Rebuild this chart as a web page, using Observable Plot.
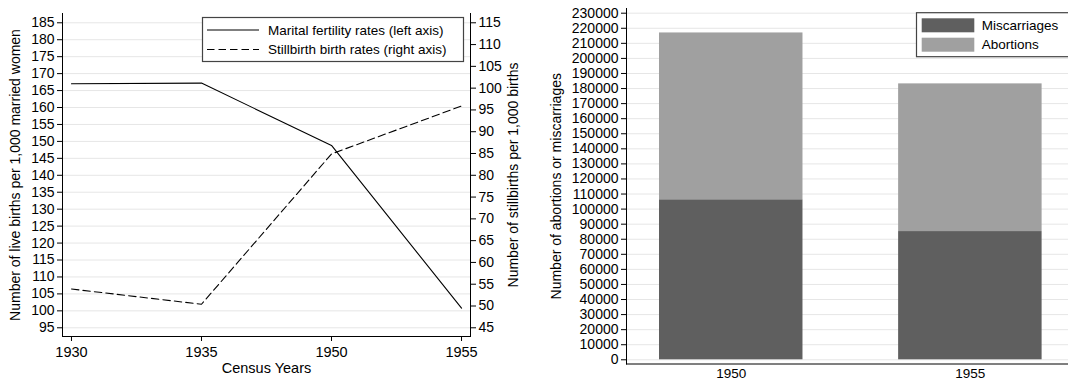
<!DOCTYPE html>
<html>
<head>
<meta charset="utf-8">
<script src="https://cdn.jsdelivr.net/npm/d3@7"></script>
<script src="https://cdn.jsdelivr.net/npm/@observablehq/plot@0.6"></script>
<style>
  html, body { margin: 0; padding: 0; background: #fff; }
  #wrap { position: relative; width: 1068px; height: 381px; overflow: hidden; font-family: "Liberation Sans", Arial, Helvetica, sans-serif; }
  #left { position: absolute; left: 0; top: 0; width: 534px; height: 381px; }
  #right { position: absolute; left: 534px; top: 0; width: 534px; height: 381px; overflow: hidden; }
  #overlay { position: absolute; left: 0; top: 0; pointer-events: none; }
</style>
</head>
<body>
<div id="wrap">
  <div id="left"></div>
  <div id="right"></div>
  <svg id="overlay" width="1068" height="381"></svg>
</div>
<script>
// ---------- Data ----------
const censusYears = ["1930", "1935", "1950", "1955"];
const maritalFertility = [167.0, 167.2, 148.8, 100.8];   // left axis
const stillbirthRate = [53.9, 50.4, 84.9, 95.9];         // right axis

const leftTicks = [95, 100, 105, 110, 115, 120, 125, 130, 135, 140, 145, 150, 155, 160, 165, 170, 175, 180, 185];
const rightTicks = [45, 50, 55, 60, 65, 70, 75, 80, 85, 90, 95, 100, 105, 110, 115];

const barYears = ["1950", "1955"];
const miscarriages = [106200, 85100];
const abortions = [110700, 98000];
const barTicks = [0, 10000, 20000, 30000, 40000, 50000, 60000, 70000, 80000, 90000, 100000,
  110000, 120000, 130000, 140000, 150000, 160000, 170000, 180000, 190000, 200000, 210000, 220000, 230000];
const seriesNames = ["Miscarriages", "Abortions"];
const seriesColors = ["#5f5f5f", "#a0a0a0"];
const lineLabels = ["Marital fertility rates (left axis)", "Stillbirth birth rates (right axis)"];

const FONT = '"Liberation Sans", Arial, Helvetica, sans-serif';

// ---------- Left chart (dual axis) ----------
// right-axis value -> left-axis position (45 <-> 95, 115 <-> 185)
const toLeft = r => 95 + (r - 45) * 90 / 70;
const fromLeft = l => 45 + (l - 95) * 70 / 90;

const lineData = censusYears.map((y, i) => ({i, year: y, fert: maritalFertility[i], still: stillbirthRate[i]}));
const xPad = 0.069;

const left = Plot.plot({
  width: 534, height: 381,
  marginLeft: 62, marginRight: 64, marginTop: 13, marginBottom: 45,
  style: {fontFamily: FONT, fontSize: "14px", color: "black", background: "transparent"},
  x: {type: "linear", domain: [-xPad, censusYears.length - 1 + xPad]},
  y: {domain: [92.43, 187.74]},
  marks: [
    Plot.gridY(leftTicks, {stroke: "#e6e6e6", strokeOpacity: 1, strokeWidth: 1}),
    Plot.line(lineData, {x: "i", y: d => toLeft(d.still), stroke: "black", strokeWidth: 1.1, strokeDasharray: "7.5,4"}),
    Plot.line(lineData, {x: "i", y: "fert", stroke: "black", strokeWidth: 1.1}),
    Plot.frame({anchor: "left", stroke: "black"}),
    Plot.frame({anchor: "right", stroke: "black"}),
    Plot.frame({anchor: "bottom", stroke: "black"}),
    Plot.axisY(leftTicks, {anchor: "left", tickSize: 5, tickPadding: 3, fontSize: 14,
      label: "Number of live births per 1,000 married women", labelAnchor: "center", labelOffset: 52, labelArrow: "none"}),
    Plot.axisY(rightTicks.map(toLeft), {anchor: "right", tickSize: 5, tickPadding: 3, fontSize: 14,
      tickFormat: d => String(Math.round(fromLeft(d))),
      label: "Number of stillbirths per 1,000 births", labelAnchor: "center", labelOffset: 47, labelArrow: "none"}),
    Plot.axisX(censusYears.map((_, i) => i), {anchor: "bottom", tickSize: 5, tickPadding: 5, fontSize: 14.5,
      tickFormat: i => censusYears[i],
      label: "Census Years", labelAnchor: "center", labelOffset: 36, labelArrow: "none"})
  ]
});
document.getElementById("left").appendChild(left);

// ---------- Right chart (stacked bars) ----------
const barData = [
  ...barYears.map((y, i) => ({year: y, type: seriesNames[0], value: miscarriages[i]})),
  ...barYears.map((y, i) => ({year: y, type: seriesNames[1], value: abortions[i]}))
];

const right = Plot.plot({
  width: 534, height: 381,
  marginLeft: 92, marginRight: 0, marginTop: 8, marginBottom: 17.5,
  style: {fontFamily: FONT, fontSize: "14px", color: "black", background: "transparent"},
  x: {type: "band", domain: barYears, range: [92, 540.6], paddingInner: 0.4, paddingOuter: 0.138, round: false},
  y: {domain: [-2790, 233120]},
  color: {domain: seriesNames, range: seriesColors},
  marks: [
    Plot.gridY(barTicks, {stroke: "#e6e6e6", strokeOpacity: 1, strokeWidth: 1}),
    Plot.barY(barData, {x: "year", y: "value", fill: "type", insetLeft: 0, insetRight: 0}),
    Plot.frame({anchor: "left", stroke: "black"}),
    Plot.frame({anchor: "bottom", stroke: "black"}),
    Plot.axisY(barTicks, {anchor: "left", tickSize: 5, tickPadding: 3, fontSize: 14,
      tickFormat: d => String(d),
      label: "Number of abortions or miscarriages", labelAnchor: "center", labelOffset: 75, labelArrow: "none"}),
    Plot.axisX(barYears, {anchor: "bottom", tickSize: 0, tickPadding: 4, fontSize: 13.5, label: null})
  ]
});
document.getElementById("right").appendChild(right);

// ---------- Legends ----------
const ov = d3.select("#overlay").style("font-family", FONT);

// left legend
const lg = ov.append("g");
lg.append("rect").attr("x", 202.5).attr("y", 17.5).attr("width", 261).attr("height", 44)
  .attr("fill", "white").attr("stroke", "#444").attr("stroke-width", 1.2);
const dashes = [null, "7.5,4"];
lineLabels.forEach((t, k) => {
  const cy = 30 + k * 19.5;
  lg.append("line").attr("x1", 207).attr("x2", 259).attr("y1", cy).attr("y2", cy)
    .attr("stroke", "black").attr("stroke-width", 1.1).attr("stroke-dasharray", dashes[k]);
  lg.append("text").attr("x", 268).attr("y", cy).attr("dy", "0.35em")
    .attr("font-size", 13.5).attr("fill", "black").text(t);
});

// right legend
const rg = ov.append("g");
rg.append("rect").attr("x", 916.5).attr("y", 12.7).attr("width", 170).attr("height", 44)
  .attr("fill", "white").attr("stroke", "#444").attr("stroke-width", 1.2);
seriesNames.forEach((t, k) => {
  const top = 18.3 + k * 19.4;
  rg.append("rect").attr("x", 921.7).attr("y", top).attr("width", 52.6).attr("height", 14)
    .attr("fill", seriesColors[k]);
  rg.append("text").attr("x", 981.7).attr("y", top + 7).attr("dy", "0.35em")
    .attr("font-size", 13.5).attr("fill", "black").text(t);
});
</script>
</body>
</html>
